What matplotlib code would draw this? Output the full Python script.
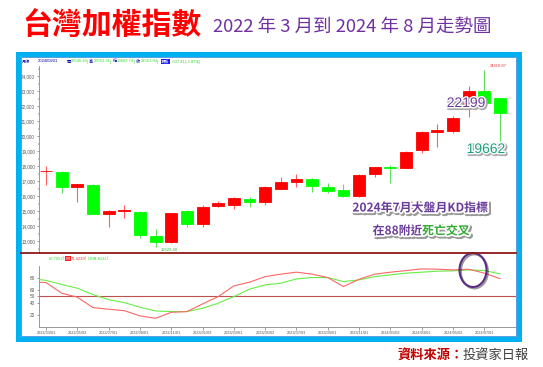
import numpy as np
import matplotlib
matplotlib.use('Agg')
import matplotlib.pyplot as plt
import matplotlib.patheffects as pe
from matplotlib.patches import Rectangle, Ellipse

plt.rcParams['font.family'] = ['Noto Sans CJK TC', 'DejaVu Sans']
SMALL = ['Liberation Sans', 'DejaVu Sans']

# monthly TAIEX, 2022/03 .. 2024/08
opens = [17640, 17630, 16590, 16750, 14790, 15000, 14960, 13350, 12930, 15010,
         14140, 15330, 15420, 15800, 15580, 16500, 16950, 17150, 16620, 16370,
         16000, 17450, 17930, 17880, 19050, 20300, 20360, 21950, 23020, 22546.40]
highs = [17990, 17660, 16830, 16800, 15050, 15410, 15000, 13800, 14900, 15060,
         15430, 15690, 15930, 15910, 16660, 17290, 17460, 17200, 16870, 16800,
         17470, 17950, 18100, 18980, 20350, 20820, 21360, 23350, 24416.87, 22553.31]
lows = [16720, 16180, 15616, 14800, 13928, 14510, 13210, 12629.48, 12850, 13950,
        13960, 15240, 15150, 15290, 15400, 16450, 16590, 16270, 16180, 15950,
        15960, 17250, 16850, 17860, 18900, 19270, 20200, 21300, 21900, 19662.74]
closes = [17693, 16592, 16807, 14825, 14999, 15095, 13424, 12949, 14880, 14137,
          15265, 15503, 15868, 15579, 16578, 16915, 17145, 16634, 16353, 16001,
          17433, 17930, 17889, 18966, 20294, 20397, 21174, 23032, 22199, 21561.94]

# monthly KD(9); first value is 2022/02
k_vals = [73.5, 72.4, 55.2, 48.7, 31.9, 29.2, 27.0, 18.4, 14.6, 24.3, 25.4,
          37.8, 49.7, 67.0, 73.0, 82.0, 86.0, 89.2, 86.0, 80.5, 65.9,
          77.8, 86.0, 89.2, 91.8, 94.5, 94.0, 92.9, 94.0, 87.6, 78.8]
d_vals = [78.8, 76.0, 69.3, 63.3, 52.9, 44.8, 40.0, 32.5, 26.5, 25.4, 25.4,
          30.8, 39.0, 49.7, 61.7, 68.6, 71.4, 78.3, 80.5, 80.5, 74.0,
          76.7, 82.0, 84.8, 87.6, 89.2, 90.8, 91.3, 92.9, 91.8, 86.5]

date_labels = ['2022/03/01', '2022/05/03', '2022/07/01', '2022/09/01', '2022/11/01',
               '2023/01/03', '2023/03/01', '2023/05/02', '2023/07/03', '2023/09/01',
               '2023/11/01', '2024/01/02', '2024/03/01', '2024/05/02', '2024/07/01']

W, H = 543, 367


def px_box(l, t, r, b):
    return [l / W, 1 - b / H, (r - l) / W, (b - t) / H]


fig = plt.figure(figsize=(W / 100, H / 100), dpi=100)
fig.patch.set_facecolor('white')

o = np.array(opens)
c = np.array(closes)
x = np.arange(len(o))
up = c >= o
body_col = np.where(up, '#ff0000', '#00ff00')
wick_col = np.where(up, '#ff6060', '#60e060')
xlim = (-0.447, 30.02)

# ---- price panel
ax = fig.add_axes(px_box(39, 66, 516, 253))
ax.vlines(x, lows, highs, colors=wick_col, lw=0.8, zorder=2)
ax.bar(x, c - o, bottom=o, width=0.76, color=body_col, edgecolor=body_col,
       linewidth=0.6, zorder=3)
ax.set_xlim(*xlim)
ax.set_ylim(12200, 24667)
ax.set_yticks(range(13000, 24001, 1000))
ax.set_yticks(range(12500, 24600, 500), minor=True)
ax.set_yticklabels([f'{v:,}' for v in range(13000, 24001, 1000)],
                   fontsize=3.3, color='#333333', family=SMALL)
ax.tick_params(axis='y', length=1.8, width=0.4, pad=1, colors='#555555')
ax.tick_params(axis='y', which='minor', length=1.0, width=0.3)
ax.set_xticks([])
for s in ['top', 'right', 'bottom']:
    ax.spines[s].set_visible(False)
ax.spines['left'].set_color('#888888')
ax.spines['left'].set_linewidth(0.6)

ax.annotate(f'{lows[7]:.2f}', xy=(7, lows[7]), xytext=(4, -2.5),
            textcoords='offset points', fontsize=3.0, color='#33bb33',
            family=SMALL, va='center',
            arrowprops=dict(arrowstyle='-', color='#66cc66', lw=0.4))
ax.annotate(f'{highs[28]:.2f}', xy=(28, highs[28]), xytext=(4, 3),
            textcoords='offset points', fontsize=3.0, color='#ee3333',
            family=SMALL, va='center',
            arrowprops=dict(arrowstyle='-', color='#ff6666', lw=0.4))

big_fx = [pe.Stroke(linewidth=2.6, foreground='#aaaaaa', offset=(0.9, -0.9)),
          pe.withStroke(linewidth=2.0, foreground='white')]
ax.text(26.83, closes[28], f'{int(closes[28])}', fontsize=10, color='#6a3d9a',
        ha='center', va='center', family=SMALL, path_effects=big_fx, zorder=5)
ax.text(28.1, lows[29] - 530, f'{int(lows[29])}', fontsize=10, color='#1aa080',
        ha='center', va='center', family=SMALL, path_effects=big_fx, zorder=5)

# ---- KD panel
kx = np.arange(-1, len(o))
ax2 = fig.add_axes(px_box(39, 265.5, 516, 327.3))
ax2.plot(kx, d_vals, color='#66ee44', lw=0.8, zorder=3)
ax2.plot(kx, k_vals, color='#ff6666', lw=0.8, zorder=3)
ax2.axhline(50, color='#c05050', lw=0.8, zorder=2)
ax2.set_xlim(*xlim)
ax2.set_ylim(0, 100)
ax2.set_yticks([20, 40, 50, 60, 80])
ax2.set_yticklabels(['20', '40', '50', '60', '80'], fontsize=3.4,
                    color='#333333', family=SMALL)
ax2.get_yticklabels()[2].set_color('#dd2222')
ax2.set_xticks(x[::2])
ax2.set_xticklabels(date_labels, fontsize=2.8, color='#333333', family=SMALL)
ax2.tick_params(length=1.8, width=0.4, pad=1, colors='#555555')
for s in ['top', 'right']:
    ax2.spines[s].set_visible(False)
for s in ['left', 'bottom']:
    ax2.spines[s].set_color('#888888')
    ax2.spines[s].set_linewidth(0.6)

# ---- overlay: frame, titles, notes
ov = fig.add_axes([0, 0, 1, 1])
ov.set_xlim(0, W)
ov.set_ylim(H, 0)
ov.axis('off')
ov.patch.set_alpha(0)

ov.add_patch(Rectangle((17.5, 53.5), 501.5, 285.5, fill=False,
                       edgecolor='#00b0f0', lw=3.6))
ov.add_patch(Rectangle((21, 57), 495, 279, fill=False,
                       edgecolor='#3d8fd8', lw=0.6))
ov.plot([21, 516], [253, 253], color='#8b1a1a', lw=1.3)

ov.text(22, 26, '台灣加權指數', fontsize=21.5, fontweight='bold',
        color='#ff0000', va='center', ha='left')
ov.text(213, 28, '2022 年 3 月到 2024 年 8 月走勢圖', fontsize=13.3,
        fontweight='medium', color='#7030a0', va='center', ha='left')

hdr = [(22, '月線', '#000099'), (38, '2024/08/01', '#000099'),
       (67, '開', '#000099'), (71, '22546.40', '#33dd33'),
       (86.5, '|', '#33dd33'), (89, '高', '#000099'), (93.5, '22553.31', '#33dd33'),
       (110, '|', '#33dd33'), (112.5, '低', '#000099'), (117, '19662.74', '#33dd33'),
       (133.5, '|', '#33dd33'), (136, '收', '#000099'), (140.5, '21561.94', '#33dd33'),
       (157, '|', '#33dd33'), (172, '-637.41(-2.87%)', '#33dd33'),
       (197, '|', '#33dd33')]
for hx, t, col in hdr:
    ov.text(hx, 61.5, t, fontsize=3.0, color=col, va='center', ha='left',
            family=['Liberation Sans', 'Noto Sans CJK TC'])
ov.text(161, 61.5, '漲跌', fontsize=3.0, color='white', va='center', ha='left',
        bbox=dict(boxstyle='square,pad=0.1', fc='#1a1aff', ec='none'))

kd_hdr = [(49, '60.7052', '#33dd33'), (63, '|', '#33dd33'),
          (71, '71.4239', '#ff3333'), (85, '|', '#33dd33'),
          (88, 'D9', '#33dd33'), (93, '84.8231', '#33dd33'),
          (107, '|', '#33dd33')]
for hx, t, col in kd_hdr:
    ov.text(hx, 258.5, t, fontsize=3.0, color=col, va='center', ha='left',
            family=SMALL)
ov.text(65.5, 258.5, 'K9', fontsize=3.0, color='white', va='center', ha='left',
        family=SMALL, bbox=dict(boxstyle='square,pad=0.1', fc='#ff2222', ec='none'))

note_fx = [pe.Stroke(linewidth=3.0, foreground='#999999', offset=(1.1, -1.1)),
           pe.withStroke(linewidth=2.5, foreground='white')]
ov.text(420, 208, '2024年7月大盤月KD指標', fontsize=8.6, fontweight='bold',
        color='#6a3d9a', ha='center', va='center', path_effects=note_fx)
ov.text(422, 231, '在88附近', fontsize=8.6, fontweight='bold',
        color='#6a3d9a', ha='right', va='center', path_effects=note_fx)
ov.text(422, 231, '死亡交叉', fontsize=8.6, fontweight='bold',
        color='#33aa33', ha='left', va='center', path_effects=note_fx)

ring = Ellipse((473, 270), 27, 34, fill=False, edgecolor='#5a2d82', lw=1.5,
               path_effects=[pe.SimpleLineShadow(offset=(1, -1), alpha=0.4),
                             pe.Normal()])
ov.add_patch(ring)

ov.text(397, 355, '資料來源：', fontsize=9.5, color='#c00000', ha='left',
        va='center', fontweight='bold')
ov.text(463, 355, '投資家日報', fontsize=9.5, color='#404040', ha='left',
        va='center')

fig.savefig('out.png', dpi=100, facecolor='white')
